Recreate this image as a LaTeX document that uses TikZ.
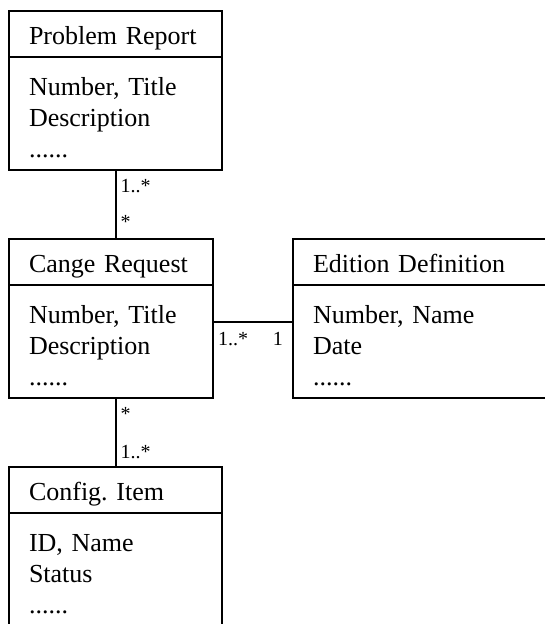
\documentclass[tikz,border=0pt]{standalone}
\usepackage{fontspec}
\setmainfont{Liberation Serif}
\usetikzlibrary{positioning}

\newcommand{\boxfont}{\fontsize{26}{31}\selectfont\frenchspacing}
\newcommand{\multfont}{\fontsize{20}{24}\selectfont}

\tikzset{
  classhead/.style={draw, line width=2.8pt, outer sep=0pt, inner xsep=20pt, inner ysep=0pt,
    align=left, font=\boxfont, text height=33pt, text depth=13pt},
  classbody/.style={draw, line width=2.8pt, outer sep=0pt, inner xsep=20pt, inner ysep=0pt,
    align=left, font=\boxfont, text height=38pt, text depth=75pt},
  assoc/.style={line width=2pt},
  mult/.style={font=\multfont, inner sep=0pt}
}

\begin{document}
\begin{tikzpicture}
\useasboundingbox (0,0) rectangle (545pt,-624pt);

% classes
\node[classhead, text width=173pt, anchor=north west] (pr) at (9pt,-11pt) {Problem Report};
\node[classbody, text width=173pt, below=0pt of pr] (prb) {Number, Title\\Description\\......};

\node[classhead, text width=164pt, below=69pt of prb.south west, anchor=north west] (cr) {Cange Request};
\node[classbody, text width=164pt, below=0pt of cr] (crb) {Number, Title\\Description\\......};

\node[classhead, text width=220pt, right=80pt of cr] (ed) {Edition Definition};
\node[classbody, text width=220pt, below=0pt of ed] (edb) {Number, Name\\Date\\......};

\node[classhead, text width=173pt, below=69pt of crb.south west, anchor=north west] (ci) {Config. Item};
\node[classbody, text width=173pt, below=0pt of ci] (cib) {ID, Name\\Status\\......};

% associations
\draw[assoc] (prb.south) -- (prb.south |- cr.north);
\draw[assoc] (ci.north) -- (ci.north |- crb.south);
\coordinate (crlink) at ([yshift=-37pt]crb.north east);
\draw[assoc] (crlink) -- (crlink -| edb.west);

% multiplicities
\node[mult, anchor=base west] (m1) at ([xshift=5pt,yshift=-22pt]prb.south) {1..*};
\node[mult, anchor=base west] (m2) at ([xshift=5pt,yshift=11pt]cr.north -| prb.south) {*};
\node[mult, anchor=base west] (m3) at ([xshift=5pt,yshift=-22pt]crb.south -| ci.north) {*};
\node[mult, anchor=base west] (m4) at ([xshift=5pt,yshift=9pt]ci.north) {1..*};
\node[mult, anchor=base west] (m5) at ([xshift=5pt,yshift=-23pt]crlink) {1..*};
\node[mult, anchor=base east] (m6) at ([xshift=-10pt,yshift=-23pt]crlink -| edb.west) {1};
\end{tikzpicture}
\end{document}
